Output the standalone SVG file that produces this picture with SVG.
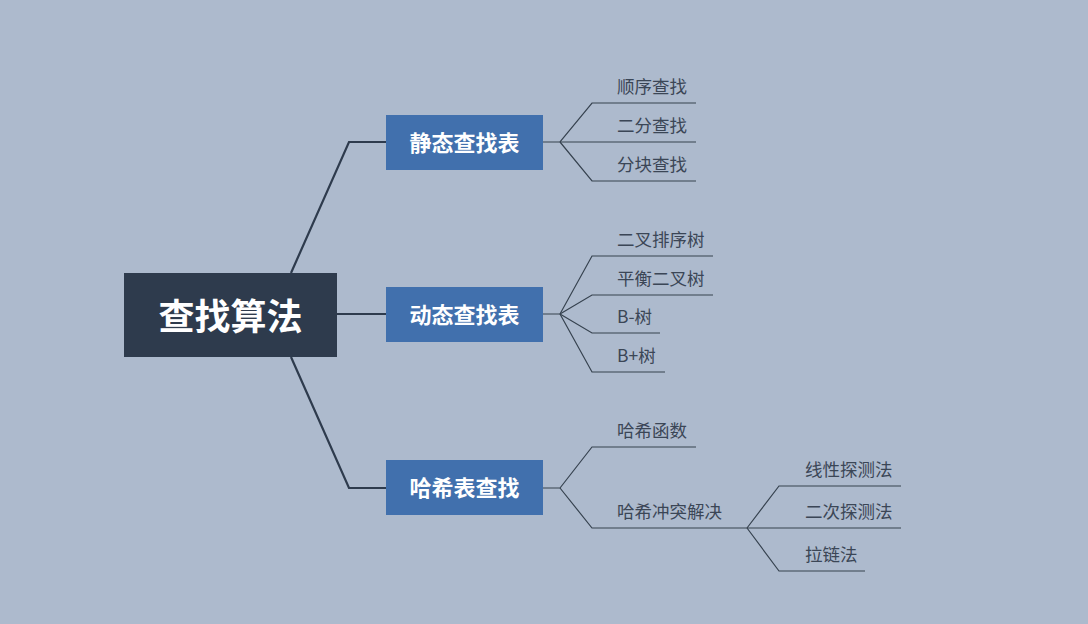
<svg xmlns="http://www.w3.org/2000/svg" width="1088" height="624" viewBox="0 0 1088 624">
<style>
.root{fill:#2e3b4d}
.main{fill:#4170ad}
.rt{font-family:"Noto Sans CJK SC","Noto Sans",sans-serif;font-weight:700;font-size:36px;fill:#ffffff;text-anchor:middle;dominant-baseline:central}
.mt{font-family:"Noto Sans CJK SC","Noto Sans",sans-serif;font-weight:700;font-size:22px;fill:#ffffff;text-anchor:middle;dominant-baseline:central}
.ct{font-family:"Noto Sans CJK SC","Noto Sans",sans-serif;font-size:17.5px;fill:#3b4656}
.c1{fill:none;stroke:#2e3b4d;stroke-width:2.2}
.c2{fill:none;stroke:#36424f;stroke-width:1.2}
</style>
<rect width="1088" height="624" fill="#adbacd"/>
<g id="connectors">
<polyline class="c1" points="291,273 349,142 386,142"/>
<polyline class="c1" points="337,314 386,314"/>
<polyline class="c1" points="291,357 349,488 386,488"/>
<polyline class="c2" points="543,142 560,142 592,103 696,103"/>
<polyline class="c2" points="560,142 696,142"/>
<polyline class="c2" points="560,142 592,181 696,181"/>
<polyline class="c2" points="543,314 560,314 592,256 713,256"/>
<polyline class="c2" points="560,314 592,295 713,295"/>
<polyline class="c2" points="560,314 592,333 660,333"/>
<polyline class="c2" points="560,314 592,372 665,372"/>
<polyline class="c2" points="543,488 560,488 592,447 696,447"/>
<polyline class="c2" points="560,488 592,528 747,528"/>
<polyline class="c2" points="747,528 779,486 901,486"/>
<polyline class="c2" points="747,528 901,528"/>
<polyline class="c2" points="747,528 779,571 865,571"/>
</g>
<g id="root"><rect class="root" x="124" y="273" width="213" height="84"/><text class="rt" x="230.5" y="314">查找算法</text></g>
<g id="static"><rect class="main" x="386" y="115" width="157" height="55"/><text class="mt" x="464.5" y="141">静态查找表</text></g>
<g id="dynamic"><rect class="main" x="386" y="287" width="157" height="55"/><text class="mt" x="464.5" y="313">动态查找表</text></g>
<g id="hash"><rect class="main" x="386" y="460" width="157" height="55"/><text class="mt" x="464.5" y="486">哈希表查找</text></g>
<g id="seq"><text class="ct" x="617" y="93">顺序查找</text></g>
<g id="binary"><text class="ct" x="617" y="132">二分查找</text></g>
<g id="block"><text class="ct" x="617" y="171">分块查找</text></g>
<g id="bst"><text class="ct" x="617" y="246">二叉排序树</text></g>
<g id="avl"><text class="ct" x="617" y="285">平衡二叉树</text></g>
<g id="btree"><text class="ct" x="617" y="323">B-树</text></g>
<g id="bplus"><text class="ct" x="617" y="362">B+树</text></g>
<g id="hashfn"><text class="ct" x="617" y="437">哈希函数</text></g>
<g id="collision"><text class="ct" x="617" y="518">哈希冲突解决</text></g>
<g id="linear"><text class="ct" x="805" y="476">线性探测法</text></g>
<g id="quad"><text class="ct" x="805" y="518">二次探测法</text></g>
<g id="chain"><text class="ct" x="805" y="561">拉链法</text></g>
</svg>
